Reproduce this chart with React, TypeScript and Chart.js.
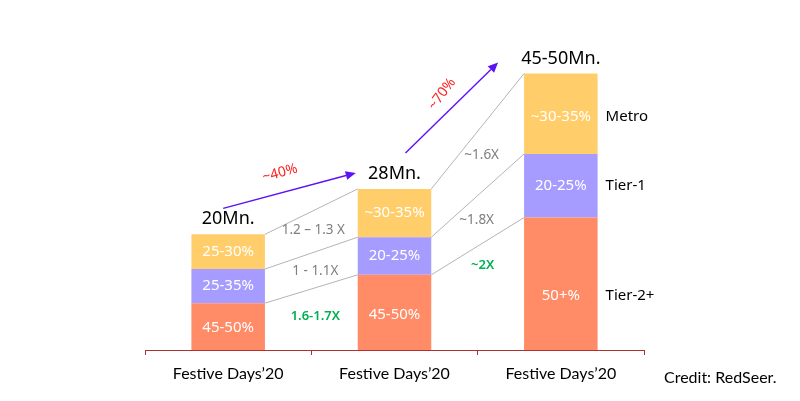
import React, { useEffect, useRef } from "react";
import { Chart, registerables } from "chart.js";

Chart.register(...registerables);

const categories = ["Festive Days’20", "Festive Days’20", "Festive Days’20"];
const seriesNames = ["Tier-2+", "Tier-1", "Metro"];
const tier2Values = [8.1, 13.0, 22.9];
const tier1Values = [5.9, 6.5, 11.0];
const metroValues = [6.0, 8.35, 13.9];
const tier2Labels = ["45-50%", "45-50%", "50+%"];
const tier1Labels = ["25-35%", "20-25%", "20-25%"];
const metroLabels = ["25-30%", "~30-35%", "~30-35%"];
const totalLabels = ["20Mn.", "28Mn.", "45-50Mn."];
// growth multipliers between consecutive bars, per boundary (tier2 top, tier1 top, metro top)
const growthLabels = [
  ["1.6-1.7X", "1 - 1.1X", "1.2 – 1.3 X"],
  ["~2X", "~1.8X", "~1.6X"],
];
const arrowLabels = ["~40%", "~70%"];
const creditText = "Credit: RedSeer.";

const COLORS = ["#FF8B67", "#A69CFF", "#FFCE6B"];
const segLabels = [tier2Labels, tier1Labels, metroLabels];

// pixel offsets for annotations (layout only)
const segLabelDy = [
  [1, 2, 12],
  [0, 0, 0],
  [0, 0, 3],
];
const growthDx = [
  [4, 4, 2],
  [5, -1, 4],
];
const growthDy = [
  [27, 18, 18.5],
  [19.5, 24.5, 23.5],
];
const nameDy = [12, 0, 3];

function drawArrow(ctx: CanvasRenderingContext2D, x1: number, y1: number, x2: number, y2: number) {
  const ang = Math.atan2(y2 - y1, x2 - x1);
  const head = 10;
  const hw = 4.5;
  ctx.save();
  ctx.strokeStyle = "#5B12F5";
  ctx.fillStyle = "#5B12F5";
  ctx.lineWidth = 1.4;
  ctx.beginPath();
  ctx.moveTo(x1, y1);
  ctx.lineTo(x2 - head * Math.cos(ang), y2 - head * Math.sin(ang));
  ctx.stroke();
  ctx.beginPath();
  ctx.moveTo(x2, y2);
  const bx = x2 - head * Math.cos(ang);
  const by = y2 - head * Math.sin(ang);
  ctx.lineTo(bx + hw * Math.sin(ang), by - hw * Math.cos(ang));
  ctx.lineTo(bx - hw * Math.sin(ang), by + hw * Math.cos(ang));
  ctx.closePath();
  ctx.fill();
  ctx.restore();
}

const annotationPlugin = {
  id: "annotations",
  afterDatasetsDraw(chart: any) {
    const ctx: CanvasRenderingContext2D = chart.ctx;
    const metas = [0, 1, 2].map((i) => chart.getDatasetMeta(i).data);
    ctx.save();
    // connector lines
    ctx.strokeStyle = "#B4B4B4";
    ctx.lineWidth = 1;
    for (let c = 0; c < categories.length - 1; c++) {
      for (let k = 0; k < 3; k++) {
        const a = metas[k][c];
        const b = metas[k][c + 1];
        ctx.beginPath();
        ctx.moveTo(a.x + a.width / 2, a.y);
        ctx.lineTo(b.x - b.width / 2, b.y);
        ctx.stroke();
      }
    }
    // growth labels
    ctx.textAlign = "center";
    ctx.textBaseline = "middle";
    for (let c = 0; c < categories.length - 1; c++) {
      for (let k = 0; k < 3; k++) {
        const a = metas[k][c];
        const b = metas[k][c + 1];
        const mx = (a.x + a.width / 2 + b.x - b.width / 2) / 2;
        const my = (a.y + b.y) / 2;
        ctx.fillStyle = k === 0 ? "#00B050" : "#7F7F7F";
        ctx.font = k === 0 ? "600 13px 'Noto Sans'" : "13.5px 'Noto Sans'";
        ctx.fillText(growthLabels[c][k], mx + growthDx[c][k], my + growthDy[c][k]);
      }
    }
    // segment labels
    ctx.fillStyle = "#FFFFFF";
    ctx.font = "15px 'Noto Sans'";
    for (let k = 0; k < 3; k++) {
      metas[k].forEach((el: any, c: number) => {
        ctx.fillText(segLabels[k][c], el.x, (el.y + el.base) / 2 + segLabelDy[k][c]);
      });
    }
    // totals
    ctx.fillStyle = "#000000";
    ctx.font = "18px 'Noto Sans'";
    metas[2].forEach((el: any, c: number) => {
      ctx.fillText(totalLabels[c], el.x, el.y - 15);
    });
    // series names on the right of last bar
    ctx.textAlign = "left";
    ctx.font = "15px 'Noto Sans'";
    const last = categories.length - 1;
    for (let k = 0; k < 3; k++) {
      const el = metas[k][last];
      ctx.fillText(seriesNames[k], el.x + el.width / 2 + 8, (el.y + el.base) / 2 + nameDy[k]);
    }
    // arrows
    const t0 = metas[2][0], t1 = metas[2][1], t2 = metas[2][2];
    drawArrow(ctx, t0.x - 5, t0.y - 26, t1.x - t1.width / 2 - 2, t1.y - 16);
    drawArrow(ctx, t1.x + 11, t1.y - 36, t2.x - t2.width / 2 - 26, t2.y - 11);
    // arrow labels
    ctx.fillStyle = "#FF2020";
    ctx.font = "14px 'Noto Sans'";
    ctx.textAlign = "center";
    ctx.save();
    ctx.translate(280, 173);
    ctx.rotate((-15 * Math.PI) / 180);
    ctx.fillText(arrowLabels[0], 0, 0);
    ctx.restore();
    ctx.save();
    ctx.translate(442, 94);
    ctx.rotate((-53 * Math.PI) / 180);
    ctx.fillText(arrowLabels[1], 0, 0);
    ctx.restore();
    // credit
    ctx.fillStyle = "#000000";
    ctx.textAlign = "left";
    ctx.font = "16px Lato";
    ctx.fillText(creditText, 664, 378);
    ctx.restore();
  },
};

export default function App() {
  const ref = useRef<HTMLCanvasElement | null>(null);
  useEffect(() => {
    if (!ref.current) return;
    const chart = new Chart(ref.current, {
      type: "bar",
      data: {
        labels: categories,
        datasets: [
          { label: seriesNames[0], data: tier2Values, backgroundColor: COLORS[0] },
          { label: seriesNames[1], data: tier1Values, backgroundColor: COLORS[1] },
          { label: seriesNames[2], data: metroValues, backgroundColor: COLORS[2] },
        ],
      },
      options: {
        responsive: false,
        animation: false,
        devicePixelRatio: 1,
        layout: { padding: { left: 145, right: 156, top: 3, bottom: 0 } },
        plugins: { legend: { display: false }, tooltip: { enabled: false } },
        datasets: { bar: { barPercentage: 0.442, categoryPercentage: 1 } },
        scales: {
          x: {
            stacked: true,
            afterFit: (scale: any) => {
              scale.height = 51;
            },
            border: { color: "#B03030", width: 1 },
            grid: {
              display: true,
              offset: true,
              drawOnChartArea: false,
              drawTicks: true,
              tickLength: 5,
              color: "#B03030",
            },
            ticks: { color: "#000000", padding: 9, font: { family: "Lato", size: 16 }, maxRotation: 0 },
          },
          y: { stacked: true, display: false, min: 0, max: 60 },
        },
      },
      plugins: [annotationPlugin],
    });
    return () => chart.destroy();
  }, []);
  return (
    <div style={{ position: "absolute", left: 0, top: 0, width: 800, height: 401, background: "#fff" }}>
      <canvas ref={ref} width={800} height={401} />
    </div>
  );
}
